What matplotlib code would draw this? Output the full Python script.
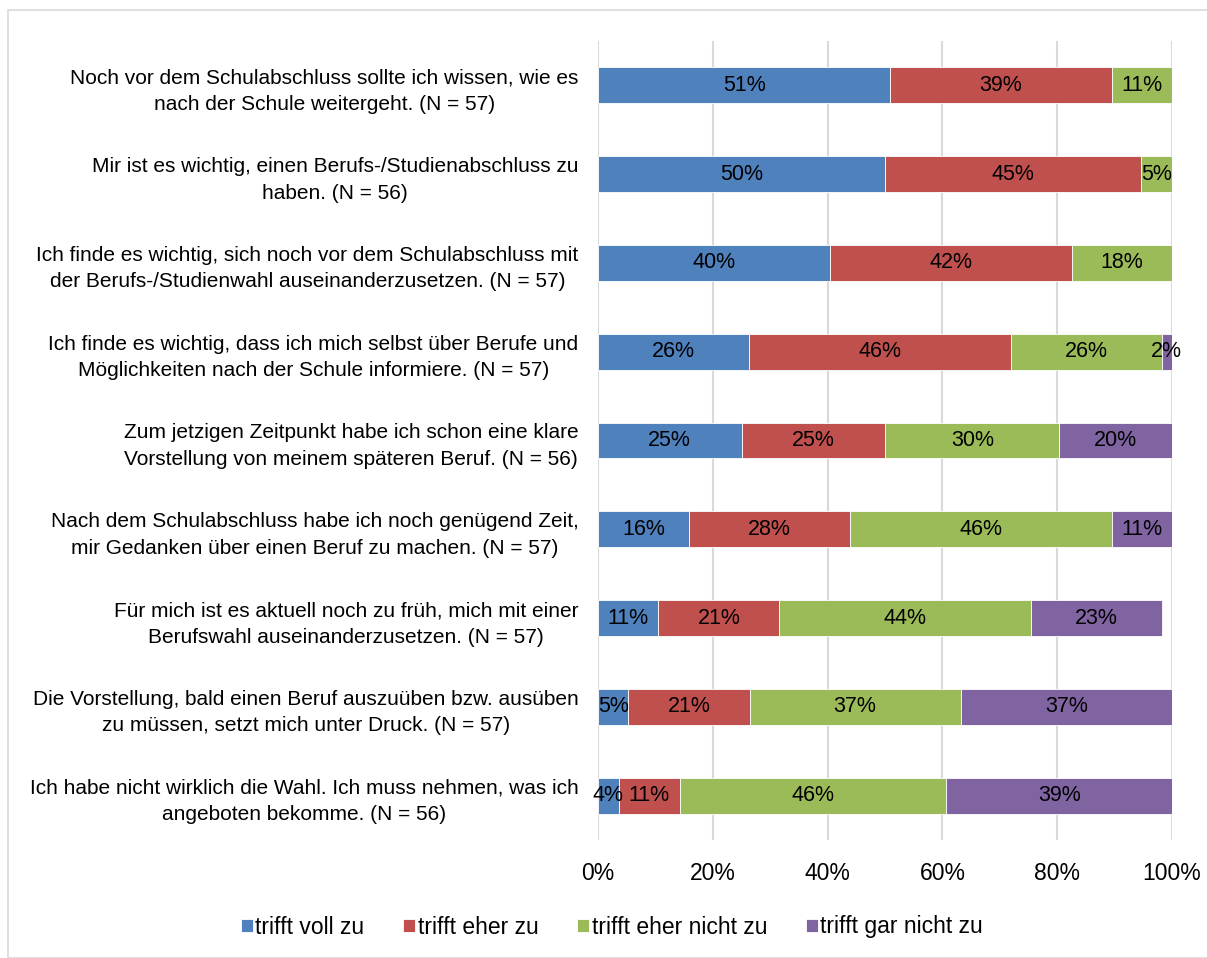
import matplotlib.pyplot as plt
from matplotlib.patches import Rectangle

plt.rcParams['font.family'] = ['Liberation Sans', 'DejaVu Sans']

categories = [
    'Noch vor dem Schulabschluss sollte ich wissen, wie es\nnach der Schule weitergeht. (N = 57)',
    'Mir ist es wichtig, einen Berufs-/Studienabschluss zu\nhaben. (N = 56)',
    'Ich finde es wichtig, sich noch vor dem Schulabschluss mit\nder Berufs-/Studienwahl auseinanderzusetzen. (N = 57)',
    'Ich finde es wichtig, dass ich mich selbst über Berufe und\nMöglichkeiten nach der Schule informiere. (N = 57)',
    'Zum jetzigen Zeitpunkt habe ich schon eine klare\nVorstellung von meinem späteren Beruf. (N = 56)',
    'Nach dem Schulabschluss habe ich noch genügend Zeit,\nmir Gedanken über einen Beruf zu machen. (N = 57)',
    'Für mich ist es aktuell noch zu früh, mich mit einer\nBerufswahl auseinanderzusetzen. (N = 57)',
    'Die Vorstellung, bald einen Beruf auszuüben bzw. ausüben\nzu müssen, setzt mich unter Druck. (N = 57)',
    'Ich habe nicht wirklich die Wahl. Ich muss nehmen, was ich\nangeboten bekomme. (N = 56)',
]
series = ['trifft voll zu', 'trifft eher zu', 'trifft eher nicht zu', 'trifft gar nicht zu']

# percentages per statement (same order as categories)
voll =       [50.9, 50.0, 40.4, 26.3, 25.0, 15.8, 10.5, 5.3, 3.6]
eher =       [38.6, 44.6, 42.1, 45.6, 25.0, 28.1, 21.1, 21.1, 10.7]
eher_nicht = [10.5, 5.4, 17.5, 26.3, 30.4, 45.6, 43.9, 36.8, 46.4]
gar_nicht =  [0.0, 0.0, 0.0, 1.8, 19.6, 10.5, 22.8, 36.8, 39.3]

colors = ['#4F81BD', '#C0504D', '#9BBB59', '#8064A2']

fig = plt.figure(figsize=(12.07, 9.58), dpi=100)
fig.patches.append(Rectangle((8 / 1207, 0), 1.0, 1 - 10 / 958, transform=fig.transFigure,
                             fill=False, edgecolor='#D9D9D9', linewidth=1.2))
ax = fig.add_axes([598 / 1207, 1 - 840 / 958, (1172 - 598) / 1207, (840 - 41) / 958])

ypos = list(range(len(categories)))
left = [0.0] * len(categories)
for vals, name, col in zip([voll, eher, eher_nicht, gar_nicht], series, colors):
    bars = ax.barh(ypos, vals, left=left, height=0.405, color=col, label=name,
                   edgecolor='white', linewidth=0.6, zorder=3)
    for b, v in zip(bars, vals):
        if v > 0:
            ax.text(b.get_x() + b.get_width() / 2, b.get_y() + b.get_height() / 2,
                    f'{int(v + 0.5)}%', ha='center', va='center', fontsize=15.5,
                    color='black', zorder=4)
    left = [l + v for l, v in zip(left, vals)]

ax.set_xlim(0, 100)
ax.set_ylim(len(categories) - 0.5, -0.5)
ax.set_xticks([0, 20, 40, 60, 80, 100])
ax.set_xticklabels(['0%', '20%', '40%', '60%', '80%', '100%'], fontsize=16.5)
ax.set_yticks(ypos)
ax.set_yticklabels(categories, fontsize=15, multialignment='center')
for t in ax.get_yticklabels():
    t.set_linespacing(1.5)
ax.tick_params(axis='both', length=0)
ax.tick_params(axis='y', pad=14)
ax.tick_params(axis='x', pad=16)
ax.grid(axis='x', color='#D9D9D9', linewidth=1.5, zorder=0)
for s in ax.spines.values():
    s.set_visible(False)

fig.legend(loc='center', bbox_to_anchor=(612 / 1207, 1 - 927 / 958), ncol=4, frameon=False,
           fontsize=16.5, handlelength=0.52, handleheight=0.52, handletextpad=0.1,
           columnspacing=1.7)

plt.savefig('out.png', dpi=100)
